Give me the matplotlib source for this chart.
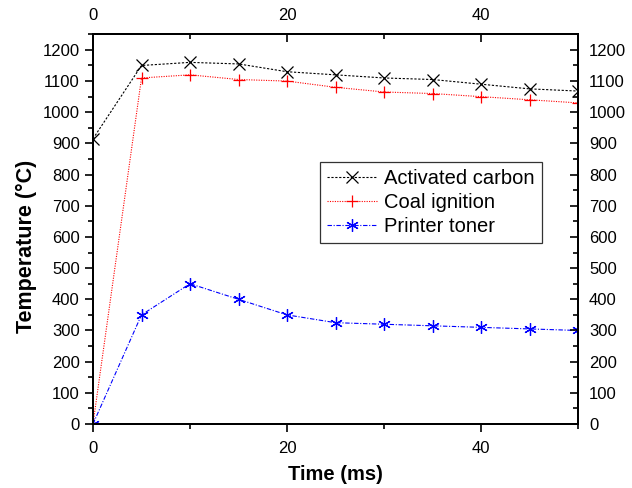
import matplotlib
matplotlib.use("Agg")
import matplotlib.pyplot as plt
from matplotlib.ticker import MultipleLocator

plt.rcParams['font.family'] = ['Liberation Sans', 'DejaVu Sans']

time_ms = [0, 5, 10, 15, 20, 25, 30, 35, 40, 45, 50]
activated_carbon = [915, 1150, 1160, 1155, 1130, 1120, 1110, 1105, 1090, 1075, 1068]
coal_ignition = [0, 1110, 1120, 1105, 1100, 1080, 1065, 1060, 1050, 1040, 1030]
printer_toner = [0, 350, 450, 400, 350, 325, 320, 315, 310, 305, 300]

XLIM = (0, 50)
YLIM = (0, 1251)

fig = plt.figure(figsize=(6.32, 4.88), dpi=100)
ax = fig.add_axes([93/632, 64/488, 485/632, 390/488])

ax.plot(time_ms, activated_carbon, color='black', ls=(0, (2, 1.5)), lw=0.8,
        marker='x', ms=8, mew=0.9, label='Activated carbon')
ax.plot(time_ms, coal_ignition, color='red', ls=(0, (1, 1.2)), lw=0.8,
        marker='+', ms=9, mew=0.9, label='Coal ignition')
ax.plot(time_ms, printer_toner, color='blue', ls=(0, (4, 1.5, 1, 1.5)), lw=0.8,
        marker=(6, 2, 0), ms=9, mew=0.9, label='Printer toner')

ax.set_xlim(*XLIM)
ax.set_ylim(*YLIM)

# mirrored axes: right and top ticks point into the plot
axr = ax.twinx()
axt = ax.twiny()
axr.set_ylim(*YLIM)
axt.set_xlim(*XLIM)

for a in (ax, axt):
    a.xaxis.set_major_locator(MultipleLocator(20))
    a.xaxis.set_minor_locator(MultipleLocator(10))
for a in (ax, axr):
    a.yaxis.set_major_locator(MultipleLocator(100))
    a.yaxis.set_minor_locator(MultipleLocator(50))

ax.tick_params(which='both', direction='out', labelsize=12, width=1.2)
ax.tick_params(axis='x', pad=6)
axr.tick_params(which='both', direction='in', labelsize=12, width=1.2, pad=8)
axt.tick_params(which='both', direction='in', labelsize=12, width=1.2, pad=8)
for a in (ax, axr, axt):
    a.tick_params(which='major', length=6)
    a.tick_params(which='minor', length=3.5)
    for s in a.spines.values():
        s.set_linewidth(1.3)

ax.set_xlabel('Time (ms)', fontsize=14.5, fontweight='bold')
ax.xaxis.set_label_coords(0.5, -0.105)
ax.set_ylabel('Temperature (°C)', fontsize=15.5, fontweight='bold')
ax.yaxis.set_label_coords(-0.115, 0.455)

leg = ax.legend(loc='upper left', bbox_to_anchor=(0.468, 0.672), fontsize=14.5,
                frameon=True, fancybox=False, edgecolor='black',
                handlelength=2.5, handletextpad=0.35, borderpad=0.35,
                labelspacing=0.25, borderaxespad=0)
leg.get_frame().set_linewidth(0.9)
leg.set_zorder(5)

fig.savefig('out.png', dpi=100)
